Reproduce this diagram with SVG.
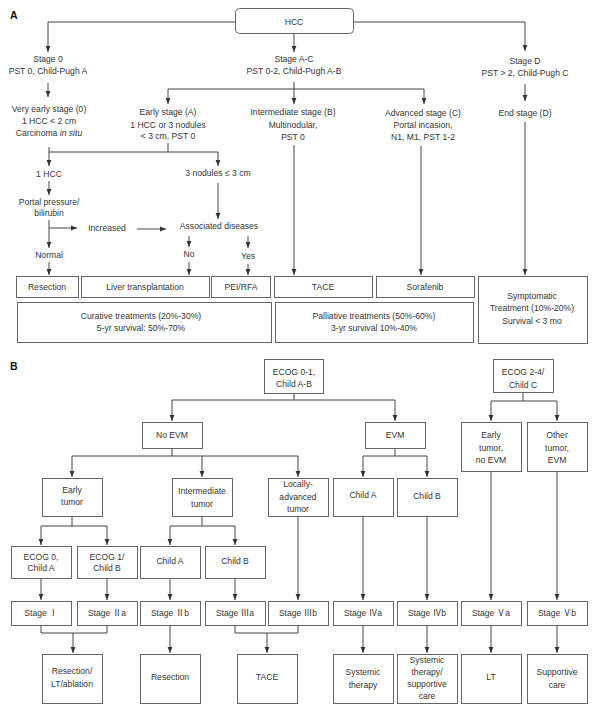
<svg xmlns="http://www.w3.org/2000/svg" width="600" height="713" viewBox="0 0 600 713">
<style>
text{font-family:"Liberation Sans","Noto Sans CJK SC",sans-serif;font-size:8.6px;fill:#333;text-anchor:middle}
.lbl{font-size:10.5px;font-weight:bold;text-anchor:start;fill:#111}
.box{fill:#fff;stroke:#666;stroke-width:1}
.c{fill:none;stroke:#444;stroke-width:1}
.a{marker-end:url(#arr)}
</style>
<defs>
<marker id="arr" viewBox="0 0 6 6" refX="6" refY="3" markerWidth="6" markerHeight="6" orient="auto" markerUnits="userSpaceOnUse">
<path d="M0,0.6 L6,3 L0,5.4 z" fill="#333"/>
</marker>
</defs>
<rect width="600" height="713" fill="#fff"/>
<text class="lbl" x="10" y="18.5">A</text>
<text class="lbl" x="10" y="369.5">B</text>

<g id="connectors">
<path class="c a" d="M235,22 H48 V52"/>
<path class="c a" d="M353,22 H525 V51"/>
<path class="c a" d="M294,33 V52"/>
<path class="c a" d="M48,83 V97"/>
<path class="c a" d="M294,82 V104"/>
<path class="c" d="M168,89 H424"/>
<path class="c a" d="M168,89 V104"/>
<path class="c a" d="M424,89 V104"/>
<path class="c a" d="M525,84 V101"/>
<path class="c" d="M168,143 V152"/>
<path class="c a" d="M49,147 V166"/>
<path class="c a" d="M49,152 H218 V166"/>
<path class="c a" d="M49,181 V195"/>
<path class="c a" d="M218,183 V219"/>
<path class="c a" d="M49,220 V248"/>
<path class="c a" d="M49,228 H77"/>
<path class="c a" d="M137,229 H166"/>
<path class="c a" d="M189,236 V247"/>
<path class="c a" d="M248,236 V248"/>
<path class="c a" d="M49,262 V275"/>
<path class="c a" d="M189,262 V275"/>
<path class="c a" d="M248,264 V275"/>
<path class="c a" d="M294,145 V275"/>
<path class="c a" d="M421,146 V275"/>
<path class="c a" d="M525,122 V275"/>

<path class="c" d="M294,393 V400"/>
<path class="c" d="M172,400 H395"/>
<path class="c a" d="M172,400 V421"/>
<path class="c a" d="M395,400 V421"/>
<path class="c" d="M523,392 V401"/>
<path class="c" d="M491,401 H557"/>
<path class="c a" d="M491,401 V421"/>
<path class="c a" d="M557,401 V421"/>
<path class="c" d="M172,448 V456"/>
<path class="c" d="M72,456 H298"/>
<path class="c a" d="M72,456 V477"/>
<path class="c a" d="M202,456 V477"/>
<path class="c a" d="M298,456 V477"/>
<path class="c" d="M395,448 V456"/>
<path class="c" d="M363,456 H427"/>
<path class="c a" d="M363,456 V477"/>
<path class="c a" d="M427,456 V477"/>
<path class="c" d="M72,516 V526"/>
<path class="c" d="M41,526 H107"/>
<path class="c a" d="M41,526 V545"/>
<path class="c a" d="M107,526 V545"/>
<path class="c" d="M202,516 V526"/>
<path class="c" d="M170,526 H235"/>
<path class="c a" d="M170,526 V545"/>
<path class="c a" d="M235,526 V545"/>
<path class="c a" d="M298,516 V600"/>
<path class="c a" d="M363,516 V600"/>
<path class="c a" d="M427,516 V600"/>
<path class="c a" d="M491,471 V600"/>
<path class="c a" d="M557,471 V600"/>
<path class="c a" d="M41,578 V600"/>
<path class="c a" d="M107,578 V600"/>
<path class="c a" d="M170,578 V600"/>
<path class="c a" d="M235,578 V600"/>
<path class="c" d="M41,625 V633 H107 V625"/>
<path class="c a" d="M73,633 V653"/>
<path class="c a" d="M170,625 V653"/>
<path class="c" d="M235,625 V633 H298 V625"/>
<path class="c a" d="M267,633 V653"/>
<path class="c a" d="M363,625 V653"/>
<path class="c a" d="M427,625 V653"/>
<path class="c a" d="M491,625 V653"/>
<path class="c a" d="M557,625 V653"/>
</g>

<g id="hcc"><rect class="box" x="235.5" y="8.5" width="118" height="25" rx="4"/><text x="294" y="24.5">HCC</text></g>
<g id="stage0"><text x="48" y="62">Stage 0</text><text x="48" y="74">PST 0, Child-Pugh A</text></g>
<g id="stageAC"><text x="294" y="62">Stage A-C</text><text x="294" y="74">PST 0-2, Child-Pugh A-B</text></g>
<g id="stageD"><text x="525" y="64">Stage D</text><text x="525" y="76">PST &gt; 2, Child-Pugh C</text></g>
<g id="veryEarly"><text x="49" y="112">Very early stage (0)</text><text x="49" y="124">1 HCC &lt; 2 cm</text><text x="49" y="136">Carcinoma <tspan font-style="italic">in situ</tspan></text></g>
<g id="earlyA"><text x="168" y="115">Early stage (A)</text><text x="168" y="128">1 HCC or 3 nodules</text><text x="168" y="139">&lt; 3 cm, PST 0</text></g>
<g id="intermB"><text x="293" y="115">Intermediate stage (B)</text><text x="293" y="128">Multinodular,</text><text x="293" y="140">PST 0</text></g>
<g id="advC"><text x="423" y="116">Advanced stage (C)</text><text x="423" y="128">Portal incasion,</text><text x="423" y="140">N1, M1, PST 1-2</text></g>
<g id="endD"><text x="525" y="116">End stage (D)</text></g>
<g id="oneHCC"><text x="49" y="177">1 HCC</text></g>
<g id="threeNod"><text x="218" y="176">3 nodules ≤ 3 cm</text></g>
<g id="portal"><text x="49" y="205">Portal pressure/</text><text x="49" y="216">bilirubin</text></g>
<g id="increased"><text x="107" y="231">Increased</text></g>
<g id="assoc"><text x="219" y="229">Associated diseases</text></g>
<g id="normal"><text x="49" y="258">Normal</text></g>
<g id="no"><text x="189" y="257">No</text></g>
<g id="yes"><text x="248" y="259">Yes</text></g>
<g id="resectionA"><rect class="box" x="16.5" y="276.5" width="62" height="21"/><text x="47" y="290">Resection</text></g>
<g id="liverTx"><rect class="box" x="81.5" y="276.5" width="128" height="21"/><text x="145" y="290">Liver transplantation</text></g>
<g id="peiRfa"><rect class="box" x="211.5" y="276.5" width="59" height="21"/><text x="241" y="290">PEI/RFA</text></g>
<g id="taceA"><rect class="box" x="274.5" y="276.5" width="98" height="21"/><text x="323" y="290">TACE</text></g>
<g id="sorafenib"><rect class="box" x="376.5" y="276.5" width="98" height="21"/><text x="425" y="290">Sorafenib</text></g>
<g id="symptomatic"><rect class="box" x="478.5" y="276.5" width="109" height="67"/><text x="532" y="299">Symptomatic</text><text x="532" y="311">Treatment (10%-20%)</text><text x="532" y="324">Survival &lt; 3 mo</text></g>
<g id="curative"><rect class="box" x="17.5" y="302.5" width="254" height="40"/><text x="141" y="319">Curative treatments (20%-30%)</text><text x="141" y="331">5-yr survival: 50%-70%</text></g>
<g id="palliative"><rect class="box" x="275.5" y="302.5" width="198" height="40"/><text x="374" y="319">Palliative treatments (50%-60%)</text><text x="374" y="331">3-yr survival 10%-40%</text></g>

<g id="ecog01"><rect class="box" x="264.5" y="359.5" width="59" height="34"/><text x="294" y="375">ECOG 0-1,</text><text x="294" y="387">Child A-B</text></g>
<g id="ecog24"><rect class="box" x="493.5" y="359.5" width="60" height="33"/><text x="523" y="375">ECOG 2-4/</text><text x="523" y="388">Child C</text></g>
<g id="noEVM"><rect class="box" x="142.5" y="422.5" width="60" height="26"/><text x="172" y="438">No EVM</text></g>
<g id="EVM"><rect class="box" x="365.5" y="422.5" width="60" height="26"/><text x="395" y="438">EVM</text></g>
<g id="earlyNoEVM"><rect class="box" x="461.5" y="422.5" width="60" height="49"/><text x="491" y="438">Early</text><text x="491" y="451">tumor,</text><text x="491" y="463">no EVM</text></g>
<g id="otherEVM"><rect class="box" x="527.5" y="422.5" width="60" height="49"/><text x="557" y="438">Other</text><text x="557" y="451">tumor,</text><text x="557" y="463">EVM</text></g>
<g id="earlyTumor"><rect class="box" x="42.5" y="478.5" width="60" height="38"/><text x="72" y="493">Early</text><text x="72" y="505">tumor</text></g>
<g id="intermTumor"><rect class="box" x="172.5" y="478.5" width="60" height="38"/><text x="202" y="494">Intermediate</text><text x="202" y="507">tumor</text></g>
<g id="locAdv"><rect class="box" x="268.5" y="478.5" width="60" height="38"/><text x="298" y="487">Locally-</text><text x="298" y="500">advanced</text><text x="298" y="512">tumor</text></g>
<g id="childA_evm"><rect class="box" x="333.5" y="478.5" width="60" height="38"/><text x="363" y="498">Child A</text></g>
<g id="childB_evm"><rect class="box" x="397.5" y="478.5" width="60" height="38"/><text x="427" y="499">Child B</text></g>
<g id="ecog0"><rect class="box" x="11.5" y="546.5" width="60" height="32"/><text x="41" y="560">ECOG 0,</text><text x="41" y="571">Child A</text></g>
<g id="ecog1"><rect class="box" x="77.5" y="546.5" width="60" height="32"/><text x="107" y="560">ECOG 1/</text><text x="107" y="571">Child B</text></g>
<g id="childA"><rect class="box" x="140.5" y="546.5" width="60" height="32"/><text x="170" y="564">Child A</text></g>
<g id="childB"><rect class="box" x="205.5" y="546.5" width="60" height="32"/><text x="235" y="564">Child B</text></g>
<g id="stageI"><rect class="box" x="11.5" y="601.5" width="60" height="24"/><text x="41" y="616">Stage Ⅰ</text></g>
<g id="stageIIa"><rect class="box" x="77.5" y="601.5" width="60" height="24"/><text x="107" y="616">Stage Ⅱa</text></g>
<g id="stageIIb"><rect class="box" x="140.5" y="601.5" width="60" height="24"/><text x="170" y="616">Stage Ⅱb</text></g>
<g id="stageIIIa"><rect class="box" x="205.5" y="601.5" width="60" height="24"/><text x="235" y="616">Stage Ⅲa</text></g>
<g id="stageIIIb"><rect class="box" x="268.5" y="601.5" width="60" height="24"/><text x="298" y="616">Stage Ⅲb</text></g>
<g id="stageIVa"><rect class="box" x="333.5" y="601.5" width="60" height="24"/><text x="363" y="616">Stage Ⅳa</text></g>
<g id="stageIVb"><rect class="box" x="397.5" y="601.5" width="60" height="24"/><text x="427" y="616">Stage Ⅳb</text></g>
<g id="stageVa"><rect class="box" x="461.5" y="601.5" width="60" height="24"/><text x="491" y="616">Stage Ⅴa</text></g>
<g id="stageVb"><rect class="box" x="527.5" y="601.5" width="60" height="24"/><text x="557" y="616">Stage Ⅴb</text></g>
<g id="resLTabl"><rect class="box" x="42.5" y="654.5" width="60" height="49"/><text x="72" y="674">Resection/</text><text x="72" y="687">LT/ablation</text></g>
<g id="resectionB"><rect class="box" x="140.5" y="654.5" width="60" height="49"/><text x="170" y="680">Resection</text></g>
<g id="taceB"><rect class="box" x="237.5" y="654.5" width="60" height="49"/><text x="267" y="680">TACE</text></g>
<g id="systemic"><rect class="box" x="333.5" y="654.5" width="60" height="49"/><text x="363" y="675">Systemic</text><text x="363" y="688">therapy</text></g>
<g id="systemicSupp"><rect class="box" x="397.5" y="654.5" width="60" height="49"/><text x="427" y="663">Systemic</text><text x="427" y="675">therapy/</text><text x="427" y="687">supportive</text><text x="427" y="699">care</text></g>
<g id="LT"><rect class="box" x="461.5" y="654.5" width="60" height="49"/><text x="491" y="680">LT</text></g>
<g id="supportive"><rect class="box" x="527.5" y="654.5" width="60" height="49"/><text x="557" y="675">Supportive</text><text x="557" y="688">care</text></g>
</svg>
